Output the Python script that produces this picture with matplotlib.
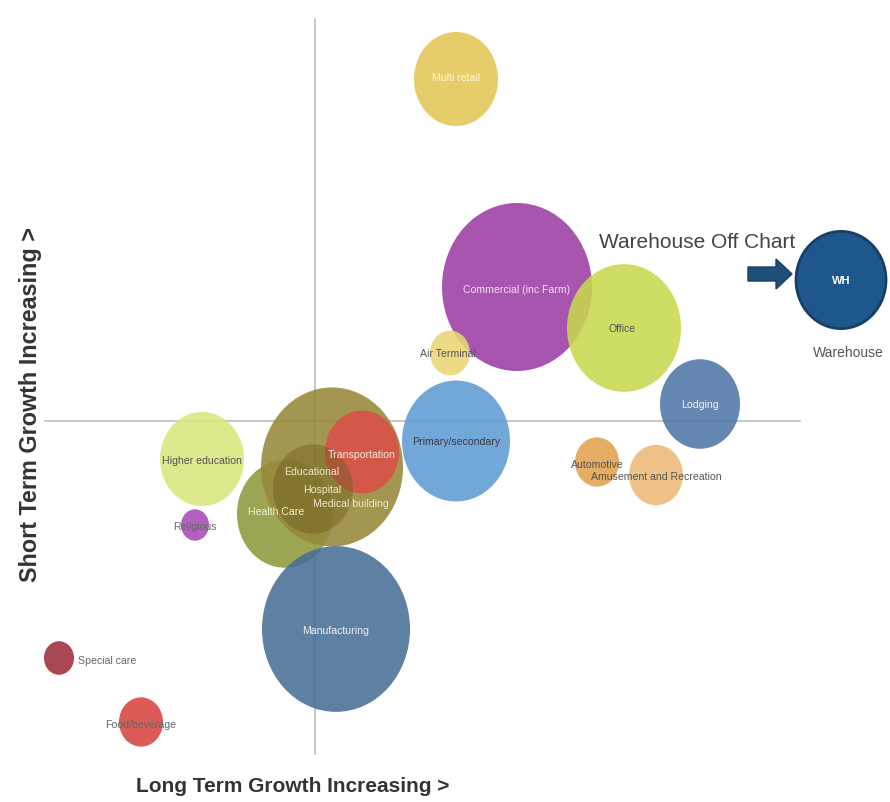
import matplotlib
matplotlib.use('Agg')
import matplotlib.pyplot as plt
from matplotlib.patches import Ellipse, FancyArrow

# 数据: 长期增长 (x), 短期增长 (y), 气泡半径, 颜色, 标签颜色
names = ['Commercial (inc Farm)', 'Office', 'Multi retail', 'Air Terminal', 'Lodging',
         'Primary/secondary', 'Automotive', 'Amusement and Recreation', 'Higher education',
         'Religious', 'Health Care', 'Educational', 'Transportation', 'Hospital',
         'Manufacturing', 'Special care', 'Food/beverage']
long_term = [202, 309, 141, 135, 385, 141, 282, 341, -113, -120, -30, 17, 47, -2, 21, -256, -174]
short_term = [134, 93, 342, 68, 17, -20, -41, -54, -38, -104, -93, -46, -31, -68, -208, -237, -301]
radius = [75, 57, 42, 20, 40, 54, 22, 27, 42, 14, 48, 71, 37, 40, 74, 15, 22]
colors = ['#9C3DA5', '#C9D94E', '#E3C654', '#EBD577', '#4F78A6',
          '#5E9CD3', '#E2A24F', '#EDBA76', '#D9E67C',
          '#A94BB8', '#8F9A3A', '#978839', '#DA5048', '#6E5D1E',
          '#476E96', '#9D2F3A', '#D9443F']
alphas = [0.88] * 13 + [0.45] + [0.88] * 3

# 标签位置 (相对气泡中心的偏移) 和颜色
label_dx = [0, -2, 0, -2, 0, 0, 0, 0, 0, 0, -9, -20, 0, 9, 0, 48, 0]
label_dy = [-2, 0, 2, 0, 0, 0, -2, -1, -1, -1, 3, -4, -2, 0, -1, -2, -2]
label_colors = ['#F0E0F0', '#555555', '#FFF8E0', '#555555', '#F5F5F5',
                '#3A3A4A', '#555555', '#555555', '#555555',
                '#666666', '#F0EED8', '#F0E8C8', '#F8E8E0', '#F0E8C8',
                '#F0F0F5', '#666666', '#666666']

extra_labels = ['Medical building']
extra_x = [36]
extra_y = [-82]

# 仓库 (图外)
wh_x, wh_y, wh_r = 526, 141, 45

stretch = 1.12
narrow = ['Liberation Sans Narrow', 'Liberation Sans', 'DejaVu Sans']

fig = plt.figure(figsize=(8.9, 8.03), dpi=100)
ax = fig.add_axes([0, 0, 1, 1])
ax.set_xlim(-315, 575)
ax.set_ylim(-381, 422)
ax.axis('off')

# 十字轴线
ax.plot([0, 0], [-333, 402], color='#BDBDBD', lw=1.2, zorder=0)
ax.plot([-270, 485], [0, 0], color='#BDBDBD', lw=1.2, zorder=0)

for i, name in enumerate(names):
    e = Ellipse((long_term[i], short_term[i]), 2 * radius[i], 2 * radius[i] * stretch,
                facecolor=colors[i], edgecolor='none', alpha=alphas[i], zorder=2 + i * 0.01)
    ax.add_patch(e)

for i, name in enumerate(names):
    ax.text(long_term[i] + label_dx[i], short_term[i] + label_dy[i], name,
            ha='center', va='center', fontsize=7.6, color=label_colors[i],
            family=narrow, zorder=5)

for i, name in enumerate(extra_labels):
    ax.text(extra_x[i], extra_y[i], name, ha='center', va='center', fontsize=7.6,
            color='#F0E8C8', family=narrow, zorder=5)

# 仓库气泡
ax.add_patch(Ellipse((wh_x, wh_y), 2 * wh_r, 2 * wh_r * 1.08, facecolor='#1E578C',
                     edgecolor='#163F66', lw=2, zorder=3))
ax.text(wh_x, wh_y, 'WH', ha='center', va='center', fontsize=8, color='white',
        fontweight='bold', family=narrow, zorder=5)
ax.text(wh_x + 7, wh_y - 72, 'Warehouse', ha='center', va='center', fontsize=10,
        color='#555555', family=narrow, zorder=5)
ax.text(382, 180, 'Warehouse Off Chart', ha='center', va='center', fontsize=15,
        color='#444444', family=narrow, zorder=5)
ax.add_patch(FancyArrow(433, 147, 28, 0, width=14, head_width=30, head_length=16,
                        length_includes_head=False, facecolor='#1E4F78',
                        edgecolor='#163F66', zorder=4))

# 坐标轴标题
ax.text(-284, 17, 'Short Term Growth Increasing >', rotation=90, ha='center',
        va='center', fontsize=16.8, fontweight='bold', color='#333333', family=narrow)
ax.text(-22, -365, 'Long Term Growth Increasing >', ha='center', va='center',
        fontsize=15, fontweight='bold', color='#333333', family=narrow)

plt.savefig('out.png', dpi=100)
